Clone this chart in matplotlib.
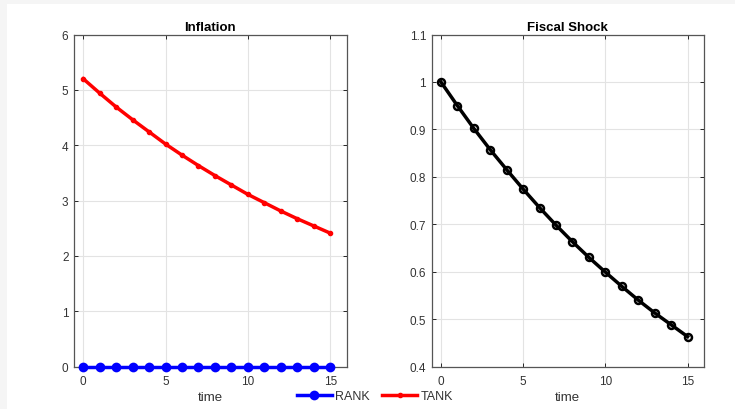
import matplotlib
matplotlib.use("Agg")
import matplotlib.pyplot as plt
from matplotlib.patches import Rectangle
from matplotlib.ticker import FormatStrFormatter

# impulse responses
time = list(range(16))
rank_inflation = [0.0] * 16
tank_inflation = [5.20, 4.94, 4.69, 4.46, 4.24, 4.02, 3.82, 3.63,
                  3.45, 3.28, 3.11, 2.96, 2.81, 2.67, 2.54, 2.41]
fiscal_shock = [1.00, 0.95, 0.902, 0.857, 0.815, 0.774, 0.735, 0.698,
                0.663, 0.630, 0.599, 0.569, 0.540, 0.513, 0.488, 0.463]

inflation_ticks = [0, 1, 2, 3, 4, 5, 6]
shock_ticks = [0.4, 0.5, 0.6, 0.7, 0.8, 0.9, 1.0, 1.1]
time_ticks = [0, 5, 10, 15]

plt.rcParams['font.family'] = ['Liberation Sans', 'DejaVu Sans']
plt.rcParams['font.size'] = 8

W, H = 735, 410
fig = plt.figure(figsize=(W / 100, H / 100), dpi=100, facecolor='#f5f5f5')
# white canvas with thin grey border top/left like the screenshot
fig.patches.append(Rectangle((7 / W, 0), 1, 1 - 5 / H, transform=fig.transFigure,
                             facecolor='white', edgecolor='none', zorder=-1))

ax1 = fig.add_axes([74 / W, 42.5 / H, 272.7 / W, 332 / H])
ax2 = fig.add_axes([431.7 / W, 42.5 / H, 272.3 / W, 332 / H])

dark = '#333333'


def style(ax, title, yticks, ylim):
    ax.set_xlim(-0.56, 16)
    ax.set_ylim(*ylim)
    ax.set_xticks(time_ticks)
    ax.set_yticks(yticks)
    ax.yaxis.set_major_formatter(FormatStrFormatter('%g'))
    ax.grid(True, color='#e3e3e3', linewidth=0.8)
    ax.set_axisbelow(True)
    ax.tick_params(direction='in', length=3, top=True, right=True,
                   colors='#262626', labelcolor=dark, labelsize=8.5, width=0.7)
    ax.tick_params(axis='x', pad=6)
    ax.tick_params(axis='y', pad=4)
    for side in ax.spines.values():
        side.set_color('#555555')
        side.set_linewidth(0.9)
    ax.set_title(title, fontsize=9.5, fontweight='bold', pad=3)
    ax.set_xlabel('time', fontsize=9.5, color=dark, labelpad=3)


style(ax1, 'Inflation', inflation_ticks, (0, 6))
style(ax2, 'Fiscal Shock', shock_ticks, (0.4, 1.1))

l1, = ax1.plot(time, rank_inflation, color='blue', linewidth=2.5, marker='o',
               markersize=5.5, markerfacecolor='blue', markeredgewidth=1.5,
               label='RANK', clip_on=False, zorder=3)
l2, = ax1.plot(time, tank_inflation, color='red', linewidth=2.5, marker='.',
               markersize=6, label='TANK', zorder=3)

ax2.plot(time, fiscal_shock, color='black', linewidth=2.5, marker='o',
         markersize=5, markerfacecolor='none', markeredgewidth=1.8, zorder=3)

fig.legend(handles=[l1, l2], loc='center', bbox_to_anchor=(375 / W, 1 - 397 / H),
           ncol=2, frameon=False, fontsize=9, handlelength=2.8,
           columnspacing=1.0, handletextpad=0.3, labelcolor=dark)

fig.savefig('out.png', dpi=100, facecolor=fig.get_facecolor())
